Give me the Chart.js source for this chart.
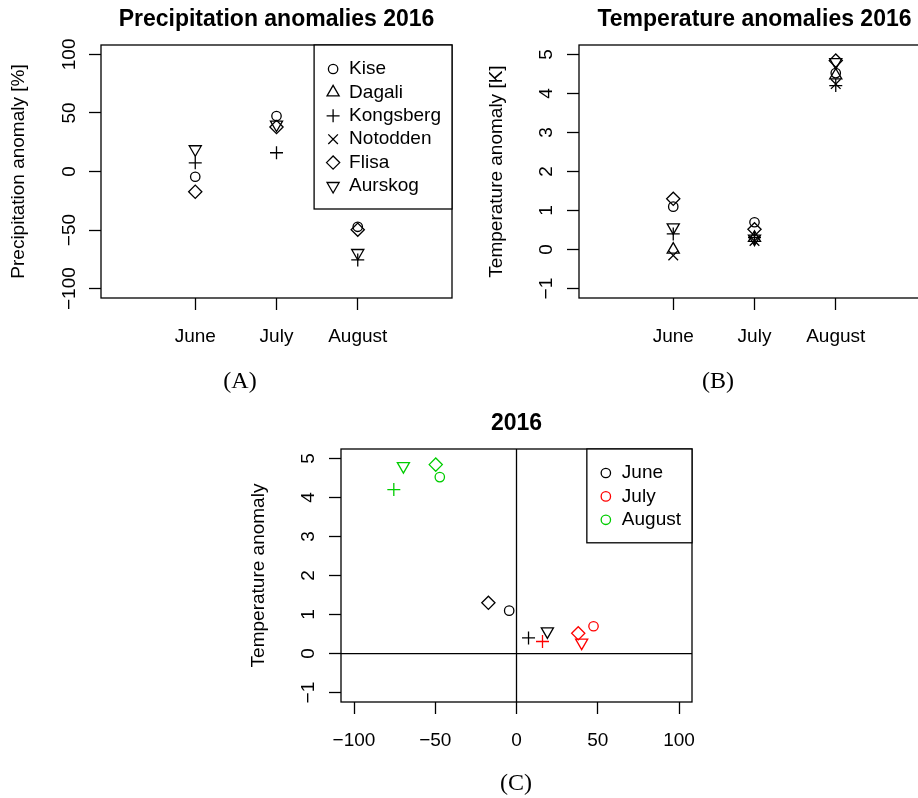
<!DOCTYPE html>
<html>
<head>
<meta charset="utf-8">
<script src="https://cdn.jsdelivr.net/npm/chart.js"></script>
<style>
  html, body { margin: 0; padding: 0; background: #fff; }
  body { width: 918px; height: 798px; position: relative; overflow: hidden; }
  canvas { position: absolute; }
  .cap { position: absolute; font-family: "Liberation Serif", "DejaVu Serif", serif; font-size: 24px; color: #000; transform: translate(-50%, -50%); }
</style>
</head>
<body>
<canvas id="chartA" width="480" height="400" style="left:0;top:0"></canvas>
<canvas id="chartB" width="480" height="400" style="left:478px;top:0"></canvas>
<canvas id="chartC" width="480" height="400" style="left:240px;top:404px"></canvas>
<div class="cap" style="left:240px;top:380px">(A)</div>
<div class="cap" style="left:718px;top:380px">(B)</div>
<div class="cap" style="left:516px;top:782px">(C)</div>
<script>
// stations and months
const stations = ['Kise', 'Dagali', 'Kongsberg', 'Notodden', 'Flisa', 'Aurskog'];
const months = ['June', 'July', 'August'];
const monthPos = [1, 2, 3];

// precipitation anomaly [%] June, July, August (null = no data)
const precKise = [-4.5, 47.4, -47.2];
const precDagali = [null, null, null];
const precKongsberg = [7.4, 16, -75.5];
const precNotodden = [null, null, null];
const precFlisa = [-17.3, 38, -49.7];
const precAurskog = [19, 40.1, -69.6];

// temperature anomaly [K] June, July, August
const tempKise = [1.1, 0.7, 4.52];
const tempDagali = [0.0, 0.3, 4.46];
const tempKongsberg = [0.4, 0.31, 4.2];
const tempNotodden = [-0.15, 0.22, 4.24];
const tempFlisa = [1.3, 0.52, 4.84];
const tempAurskog = [0.57, 0.28, 4.8];

// tick labels
const precTicks = [-100, -50, 0, 50, 100];
const tempTicks = [-1, 0, 1, 2, 3, 4, 5];
const scatterXTicks = [-100, -50, 0, 50, 100];

const prec = [precKise, precDagali, precKongsberg, precNotodden, precFlisa, precAurskog];
const temp = [tempKise, tempDagali, tempKongsberg, tempNotodden, tempFlisa, tempAurskog];

// symbols like R pch 1..6
const symbols = [
  { style: 'circle', r: 4.7, rot: 0 },
  { style: 'triangle', r: 7, rot: 0 },
  { style: 'cross', r: 6.5, rot: 0 },
  { style: 'crossRot', r: 6.8, rot: 0 },
  { style: 'rectRot', r: 6.6, rot: 0 },
  { style: 'triangle', r: 7, rot: 180 }
];
const monthColors = ['#000000', '#FF0000', '#00CD00'];

const FAMILY = "'Liberation Sans', Arimo, Arial, Helvetica, sans-serif";
const LW = 1.3;
Chart.defaults.font.family = FAMILY;
Chart.defaults.color = '#000';

const minus = v => String(v).replace('-', '\u2212');

// frame box and optional zero lines
const framePlugin = {
  id: 'frame',
  beforeDatasetsDraw(chart, args, opts) {
    const { ctx, chartArea: a, scales } = chart;
    ctx.save();
    ctx.strokeStyle = '#000';
    ctx.lineWidth = LW;
    if (opts.zeroLines) {
      const x0 = scales.x.getPixelForValue(0);
      const y0 = scales.y.getPixelForValue(0);
      ctx.beginPath();
      ctx.moveTo(x0, a.top); ctx.lineTo(x0, a.bottom);
      ctx.moveTo(a.left, y0); ctx.lineTo(a.right, y0);
      ctx.stroke();
    }
    ctx.strokeRect(a.left, a.top, a.width, a.height);
    ctx.restore();
  }
};

// boxed legend in the top right corner, R style
function boxLegend(items) {
  return {
    id: 'boxLegend',
    afterDraw(chart) {
      const { ctx, chartArea: a } = chart;
      ctx.save();
      ctx.font = '19px ' + FAMILY;
      const textW = Math.max(...items.map(it => ctx.measureText(it.text).width));
      const w = 35 + textW + 11;
      const h = 24 + (items.length - 1) * 23.4 + 23;
      const left = a.right - w, top = a.top;
      ctx.fillStyle = '#fff';
      ctx.fillRect(left, top, w, h);
      ctx.strokeStyle = '#000';
      ctx.lineWidth = LW;
      ctx.strokeRect(left, top, w, h);
      items.forEach((it, i) => {
        const y = top + 24 + i * 23.4;
        ctx.strokeStyle = it.color;
        ctx.fillStyle = 'rgba(0,0,0,0)';
        ctx.lineWidth = LW;
        Chart.helpers.drawPoint(ctx, { pointStyle: it.style, radius: it.r, rotation: it.rot, borderWidth: LW }, left + 19, y);
        ctx.fillStyle = '#000';
        ctx.textAlign = 'left';
        ctx.textBaseline = 'middle';
        ctx.fillText(it.text, left + 35, y);
      });
      ctx.restore();
    }
  };
}

function tickGrid() {
  return { display: true, drawOnChartArea: false, drawTicks: true, tickLength: 12, tickColor: '#000', tickWidth: LW };
}

function xAxis(min, max, values, label) {
  return {
    type: 'linear', min: min, max: max,
    afterBuildTicks: s => { s.ticks = values.map(v => ({ value: v })); },
    afterFit: s => { s.height = 102; },
    grid: tickGrid(),
    border: { display: false },
    ticks: { autoSkip: false, maxRotation: 0, padding: 15.5, font: { size: 19 }, color: '#000', callback: label }
  };
}

function yAxis(min, max, values, title, pad) {
  return {
    type: 'linear', min: min, max: max,
    afterBuildTicks: s => { s.ticks = values.map(v => ({ value: v })); },
    afterFit: s => { s.width = 101; },
    grid: tickGrid(),
    border: { display: false },
    title: { display: true, text: title, font: { size: 19 }, color: '#000', padding: { top: 7.6, bottom: 0 } },
    ticks: { autoSkip: false, minRotation: 90, maxRotation: 90, crossAlign: 'center', padding: pad, font: { size: 19 }, color: '#000', callback: v => minus(v) }
  };
}

function baseOptions(title, scales, frameOpts) {
  return {
    responsive: false,
    animation: false,
    events: [],
    devicePixelRatio: 1,
    layout: { padding: { left: 0, right: 28, top: 0, bottom: 0 } },
    scales: scales,
    plugins: {
      legend: { display: false },
      tooltip: { enabled: false },
      title: { display: true, text: title, fullSize: false, color: '#000', font: { size: 23, weight: 'bold' }, padding: { top: 6, bottom: 11.4 } },
      frame: frameOpts || {}
    }
  };
}

function stationSets(values) {
  return stations.map((name, i) => ({
    label: name,
    data: values[i].map((v, m) => ({ x: monthPos[m], y: v })).filter(p => p.y !== null),
    pointStyle: symbols[i].style,
    pointRadius: symbols[i].r,
    pointRotation: symbols[i].rot,
    borderColor: '#000',
    backgroundColor: 'rgba(0,0,0,0)',
    pointBorderWidth: LW
  }));
}

const stationLegend = stations.map((s, i) => ({ text: s, color: '#000', style: symbols[i].style, r: symbols[i].r, rot: symbols[i].rot }));
const monthLegend = months.map((m, i) => ({ text: m, color: monthColors[i], style: 'circle', r: 4.7, rot: 0 }));
const monthLabel = v => months[monthPos.indexOf(v)];

// (A) precipitation
new Chart(document.getElementById('chartA'), {
  type: 'scatter',
  data: { datasets: stationSets(prec) },
  options: baseOptions('Precipitation anomalies 2016', {
    x: xAxis(-0.16, 4.16, monthPos, monthLabel),
    y: yAxis(-108, 108, precTicks, 'Precipitation anomaly [%]', -2.5)
  }),
  plugins: [framePlugin, boxLegend(stationLegend)]
});

// (B) temperature
new Chart(document.getElementById('chartB'), {
  type: 'scatter',
  data: { datasets: stationSets(temp) },
  options: baseOptions('Temperature anomalies 2016', {
    x: xAxis(-0.16, 4.16, monthPos, monthLabel),
    y: yAxis(-1.24, 5.24, tempTicks, 'Temperature anomaly [K]', 9)
  }),
  plugins: [framePlugin]
});

// (C) precipitation vs temperature, coloured by month
const scatterSets = months.map((m, mi) => {
  const idx = stations.map((s, i) => i).filter(i => prec[i][mi] !== null && temp[i][mi] !== null);
  return {
    label: m,
    data: idx.map(i => ({ x: prec[i][mi], y: temp[i][mi] })),
    pointStyle: idx.map(i => symbols[i].style),
    pointRadius: idx.map(i => symbols[i].r),
    pointRotation: idx.map(i => symbols[i].rot),
    borderColor: monthColors[mi],
    backgroundColor: 'rgba(0,0,0,0)',
    pointBorderWidth: LW
  };
});

new Chart(document.getElementById('chartC'), {
  type: 'scatter',
  data: { datasets: scatterSets },
  options: baseOptions('2016', {
    x: xAxis(-108, 108, scatterXTicks, v => minus(v)),
    y: yAxis(-1.24, 5.24, tempTicks, 'Temperature anomaly', 9.5)
  }, { zeroLines: true }),
  plugins: [framePlugin, boxLegend(monthLegend)]
});
</script>
</body>
</html>
